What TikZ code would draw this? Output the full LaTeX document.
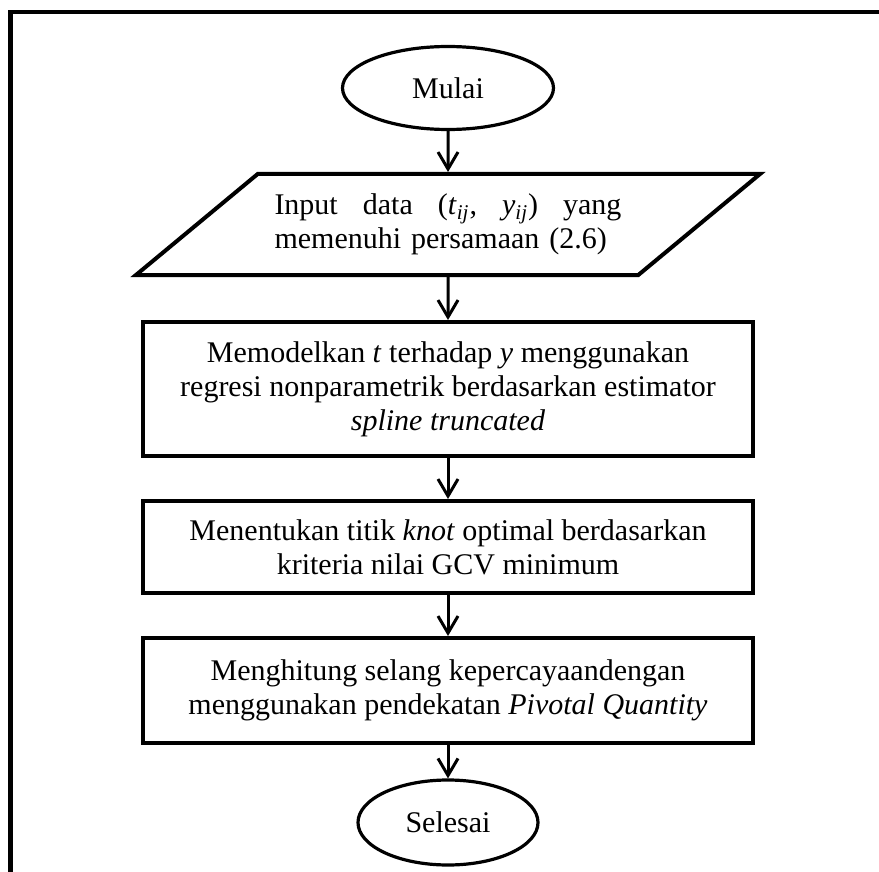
\documentclass[tikz,border=0pt]{standalone}
\usepackage{fontspec}
\setmainfont{Liberation Serif}
\usetikzlibrary{shapes, arrows.meta, positioning}
\tikzstyle{block}=[draw,fill=white,rectangle,line width=2pt,minimum width=305pt,align=center]
\tikzstyle{term}=[draw,fill=white,ellipse,line width=1.6pt,inner sep=0pt]
\tikzstyle{io}=[draw,fill=white,trapezium,trapezium left angle=32,trapezium right angle=148,trapezium stretches=true,line width=2pt,align=left,text width=173.5pt,inner xsep=6.5pt,minimum width=312.5pt,minimum height=50.5pt]
\tikzstyle{every node}=[font=\fontsize{15}{17}\selectfont]

\begin{document}
\begin{tikzpicture}[auto,>={Straight Barb[length=8.5pt,width=10pt]},x=1pt,y=1pt,line width=1.5pt]
  \useasboundingbox (0,0) rectangle (439.5,-436);
  \draw[line width=2.2pt] (5.25,-436) -- (5.25,-6) -- (439.5,-6);
  \node[term,minimum width=105.5pt,minimum height=41.5pt] (start) at (224,-44) {Mulai};
  \node[io,below of=start,node distance=68.25pt] (input) {Input\hfill data\hfill (\textit{t}\textsubscript{\textit{ij}},\hfill \textit{y}\textsubscript{\textit{ij}})\hfill yang\\memenuhi persamaan (2.6)};
  \node[block,below of=input,node distance=82.25pt,minimum height=67pt] (model) {Memodelkan \textit{t} terhadap \textit{y} menggunakan\\regresi nonparametrik berdasarkan estimator\\\textit{spline truncated}};
  \node[block,below of=model,node distance=79pt,minimum height=46pt] (knot) {Menentukan titik \textit{knot} optimal berdasarkan\\kriteria nilai GCV minimum};
  \node[block,below of=knot,node distance=71.75pt,minimum height=52.5pt] (ci) {Menghitung selang kepercayaandengan\\menggunakan pendekatan \textit{Pivotal Quantity}};
  \node[term,below of=ci,node distance=66pt,minimum width=90pt,minimum height=42.5pt] (end) {Selesai};
  \draw[->] (start) -- (input);
  \draw[->] (input) -- (model);
  \draw[->] (model) -- (knot);
  \draw[->] (knot) -- (ci);
  \draw[->] (ci) -- (end);
\end{tikzpicture}
\end{document}
